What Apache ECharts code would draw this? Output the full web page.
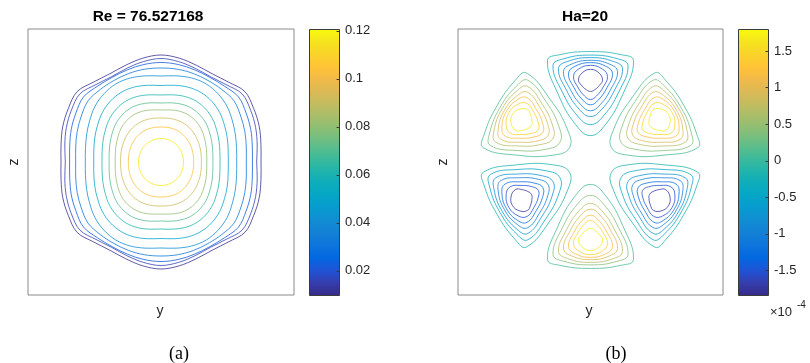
<!DOCTYPE html>
<html><head><meta charset="utf-8">
<script src="https://cdn.jsdelivr.net/npm/echarts@6/dist/echarts.min.js"></script>
<style>html,body{margin:0;padding:0;background:#fff}#c{width:810px;height:363px}</style>
</head><body><div id="c"></div>
<script>
// ---------- Panel (a): Re = 76.527168, streamwise velocity contours ----------
const levelsA = [0.011, 0.016, 0.022, 0.031, 0.041, 0.051, 0.061, 0.071, 0.081, 0.092, 0.104, 0.117];
// contour radius read at polar angles 0°,10°,...,90° from the y axis (mirror-symmetric in y and z)
const rA0  = [1.000, 0.957, 0.914, 0.853, 0.757, 0.673, 0.590, 0.519, 0.458, 0.404, 0.327, 0.225];
const rA10 = [1.015, 0.977, 0.927, 0.866, 0.767, 0.682, 0.598, 0.526, 0.464, 0.408, 0.329, 0.226];
const rA20 = [1.045, 1.007, 0.955, 0.892, 0.792, 0.705, 0.617, 0.543, 0.479, 0.416, 0.334, 0.227];
const rA30 = [1.070, 1.035, 0.982, 0.920, 0.824, 0.733, 0.642, 0.565, 0.498, 0.425, 0.340, 0.229];
const rA40 = [1.095, 1.059, 1.012, 0.952, 0.863, 0.767, 0.672, 0.592, 0.522, 0.437, 0.346, 0.231];
const rA50 = [1.045, 1.011, 0.989, 0.946, 0.889, 0.791, 0.693, 0.610, 0.538, 0.445, 0.351, 0.232];
const rA60 = [1.020, 0.986, 0.977, 0.941, 0.902, 0.802, 0.703, 0.619, 0.545, 0.449, 0.354, 0.233];
const rA70 = [1.030, 0.997, 0.981, 0.942, 0.894, 0.796, 0.697, 0.614, 0.541, 0.448, 0.354, 0.234];
const rA80 = [1.054, 1.019, 0.990, 0.942, 0.875, 0.779, 0.682, 0.601, 0.529, 0.444, 0.352, 0.235];
const rA90 = [1.070, 1.035, 0.995, 0.940, 0.860, 0.765, 0.670, 0.590, 0.520, 0.440, 0.350, 0.235];
const boxA = [-1.33, 1.33];
const colorRangeA = [0.0098, 0.1207];
const cbTicksA = [0.02, 0.04, 0.06, 0.08, 0.1, 0.12];

// ---------- Panel (b): Ha=20, six-lobe secondary flow (×1e-4) ----------
const lobeAngles = [90, 30, -30, -90, -150, 150];   // direction of each lobe (deg)
const lobeSign   = [-1, 1, -1, 1, -1, 1];
const levelsNeg  = [-0.15, -0.45, -0.75, -1.0, -1.25, -1.5, -1.72];
const levelsPos  = [0.1, 0.4, 0.7, 0.95, 1.2, 1.45, 1.7];
// lobe contour geometry: distances from the pipe centre along the lobe axis, and half width
const lobeTip    = [0.243, 0.353, 0.433, 0.490, 0.550, 0.603, 0.683];
const lobeWidest = [0.990, 0.940, 0.910, 0.880, 0.860, 0.830, 0.795];
const lobeTop    = [1.080, 1.045, 1.020, 0.993, 0.970, 0.943, 0.903];
const lobeHalfW  = [0.430, 0.375, 0.320, 0.270, 0.220, 0.170, 0.120];
const centreB    = [0, 0.02];
const boxB = [-1.325, 1.325];
const colorRangeB = [-1.84, 1.80];
const cbTicksB = [-1.5, -1, -0.5, 0, 0.5, 1, 1.5];

// parula colormap (64 entries)
const PARULA = [[0.2081,0.1663,0.5292],[0.2116,0.1898,0.5777],[0.2123,0.2138,0.6270],[0.2081,0.2386,0.6771],[0.1959,0.2645,0.7279],[0.1707,0.2919,0.7792],[0.1253,0.3242,0.8303],[0.0591,0.3598,0.8683],[0.0117,0.3875,0.8820],[0.0060,0.4086,0.8828],[0.0165,0.4266,0.8786],[0.0329,0.4430,0.8720],[0.0498,0.4586,0.8641],[0.0629,0.4737,0.8554],[0.0723,0.4887,0.8467],[0.0779,0.5040,0.8384],[0.0793,0.5200,0.8312],[0.0749,0.5375,0.8263],[0.0641,0.5570,0.8240],[0.0488,0.5772,0.8228],[0.0343,0.5966,0.8199],[0.0265,0.6137,0.8135],[0.0239,0.6287,0.8038],[0.0231,0.6418,0.7913],[0.0228,0.6535,0.7768],[0.0267,0.6642,0.7607],[0.0384,0.6743,0.7436],[0.0590,0.6838,0.7254],[0.0843,0.6928,0.7062],[0.1133,0.7015,0.6859],[0.1453,0.7098,0.6646],[0.1801,0.7177,0.6424],[0.2178,0.7250,0.6193],[0.2586,0.7317,0.5954],[0.3022,0.7376,0.5712],[0.3482,0.7424,0.5473],[0.3953,0.7459,0.5244],[0.4420,0.7481,0.5033],[0.4871,0.7491,0.4840],[0.5300,0.7491,0.4661],[0.5709,0.7485,0.4494],[0.6099,0.7473,0.4337],[0.6473,0.7456,0.4188],[0.6834,0.7435,0.4044],[0.7184,0.7411,0.3905],[0.7525,0.7384,0.3768],[0.7858,0.7356,0.3633],[0.8185,0.7327,0.3498],[0.8507,0.7299,0.3360],[0.8824,0.7274,0.3217],[0.9139,0.7258,0.3063],[0.9450,0.7261,0.2886],[0.9739,0.7314,0.2666],[0.9938,0.7455,0.2403],[0.9990,0.7653,0.2164],[0.9955,0.7861,0.1967],[0.9880,0.8066,0.1794],[0.9789,0.8271,0.1633],[0.9697,0.8481,0.1475],[0.9626,0.8705,0.1309],[0.9589,0.8949,0.1132],[0.9598,0.9218,0.0948],[0.9661,0.9514,0.0755],[0.9763,0.9831,0.0538]];
function rgb(c){return 'rgb('+c.map(v=>Math.round(v*255)).join(',')+')';}
function parula(v, range){
  let t=(v-range[0])/(range[1]-range[0]); t=Math.max(0,Math.min(1,t));
  const f=t*63, i=Math.min(62,Math.floor(f)), u=f-i, a=PARULA[i], b=PARULA[i+1];
  return rgb([0,1,2].map(k=>a[k]+(b[k]-a[k])*u));
}
const gradStops=[]; for(let i=0;i<64;i+=3){gradStops.push({offset:i/63,color:rgb(PARULA[i])});} gradStops.push({offset:1,color:rgb(PARULA[63])});

const chart = echarts.init(document.getElementById('c'), null, {renderer:'canvas'});
const TXT = '#262626', FONT = '"Liberation Sans", Arial, sans-serif';
const LINE_OPACITY = 0.78;

function renderA(params, api){
  const i = params.dataIndex;
  const rs = [rA0[i], rA10[i], rA20[i], rA30[i], rA40[i], rA50[i], rA60[i], rA70[i], rA80[i], rA90[i]];
  const pts = [];
  for(let k=0;k<36;k++){
    const th=k*10; let q=th%180; if(q>90) q=180-q;
    const r=rs[q/10], a=th*Math.PI/180;
    pts.push(api.coord([r*Math.cos(a), r*Math.sin(a)]));
  }
  return {type:'polygon', shape:{points:pts, smooth:0.35}, style:{fill:'none', stroke:parula(levelsA[i], colorRangeA), lineWidth:1, opacity:LINE_OPACITY}};
}
const lobeItems=[]; lobeAngles.forEach((ang,l)=>{ for(let c=0;c<lobeTip.length;c++) lobeItems.push([l,c]); });
function renderB(params, api){
  const l=lobeItems[params.dataIndex][0], c=lobeItems[params.dataIndex][1];
  const phi=lobeAngles[l]*Math.PI/180, ex=Math.cos(phi), ey=Math.sin(phi), nx=-ey, ny=ex;
  const tip=lobeTip[c], wide=lobeWidest[c], top=lobeTop[c], W=lobeHalfW[c];
  const L=wide-tip, H=top-wide;
  const half=[[tip,0],[tip+0.15*L,0.35*W],[tip+0.55*L,0.75*W],[wide,W],[wide+0.65*H,0.72*W],[top,0]];
  const loop=half.concat(half.slice(1,5).reverse().map(p=>[p[0],-p[1]]));
  const pts=loop.map(p=>api.coord([centreB[0]+p[0]*ex+p[1]*nx, centreB[1]+p[0]*ey+p[1]*ny]));
  const lev = lobeSign[l]<0 ? levelsNeg[c] : levelsPos[c];
  return {type:'polygon', shape:{points:pts, smooth:0.45}, style:{fill:'none', stroke:parula(lev, colorRangeB), lineWidth:1, opacity:LINE_OPACITY}};
}
function cbar(range, ticks){
  return function(params, api){
    const tl=api.coord([0, range[1]]), br=api.coord([1, range[0]]);
    const x0=Math.round(tl[0])+0.5, y0=Math.round(tl[1])+0.5, x1=Math.round(br[0])+0.5, y1=Math.round(br[1])+0.5;
    const children=[{type:'rect', shape:{x:x0, y:y0, width:x1-x0, height:y1-y0},
      style:{fill:new echarts.graphic.LinearGradient(0,1,0,0,gradStops), stroke:'#3a3a3a', lineWidth:1}}];
    ticks.forEach(t=>{
      const yy=Math.round(api.coord([1,t])[1])+0.5;
      children.push({type:'line', shape:{x1:x1-3, y1:yy, x2:x1, y2:yy}, style:{stroke:'#3a3a3a', lineWidth:1}});
    });
    return {type:'group', children};
  };
}
function cbAxis(idx, range, ticks){
  return {gridIndex:idx, type:'value', min:range[0], max:range[1], position:'right', splitLine:{show:false},
    axisLine:{show:false}, axisTick:{show:false},
    axisLabel:{show:true, customValues:ticks, margin:6, color:TXT, fontSize:13, fontFamily:FONT, formatter:v=>String(+(+v).toFixed(4))}};
}
const hiddenAxis = (idx,mn,mx)=>({gridIndex:idx, type:'value', min:mn, max:mx, show:false});
const gridBase = {containLabel:false, outerBoundsMode:'none'};

const option = {
  animation:false,
  backgroundColor:'#fff',
  grid:[
    Object.assign({left:28, top:29, width:266, height:266, show:true, borderColor:'#8a8a8a', borderWidth:1, backgroundColor:'#fff'}, gridBase),
    Object.assign({left:309, top:29, width:30, height:266, show:false}, gridBase),
    Object.assign({left:458, top:29, width:265, height:266, show:true, borderColor:'#8a8a8a', borderWidth:1, backgroundColor:'#fff'}, gridBase),
    Object.assign({left:738, top:29, width:30, height:266, show:false}, gridBase)
  ],
  xAxis:[hiddenAxis(0,boxA[0],boxA[1]), hiddenAxis(1,0,1), hiddenAxis(2,boxB[0],boxB[1]), hiddenAxis(3,0,1)],
  yAxis:[hiddenAxis(0,boxA[0],boxA[1]), cbAxis(1,colorRangeA,cbTicksA), hiddenAxis(2,boxB[0],boxB[1]), cbAxis(3,colorRangeB,cbTicksB)],
  series:[
    {type:'custom', xAxisIndex:0, yAxisIndex:0, clip:false, silent:true, data:levelsA.map(()=>[0,0]), renderItem:renderA},
    {type:'custom', xAxisIndex:1, yAxisIndex:1, clip:false, silent:true, data:[[0.5,colorRangeA[0]]], renderItem:cbar(colorRangeA,cbTicksA), z:1},
    {type:'custom', xAxisIndex:2, yAxisIndex:2, clip:false, silent:true, data:lobeItems.map(()=>[0,0]), renderItem:renderB},
    {type:'custom', xAxisIndex:3, yAxisIndex:3, clip:false, silent:true, data:[[0.5,colorRangeB[0]]], renderItem:cbar(colorRangeB,cbTicksB), z:1}
  ],
  graphic:[
    {type:'text', x:148, y:17, style:{text:'Re = 76.527168', font:'bold 15.5px '+FONT, fill:'#000', align:'center', verticalAlign:'middle'}},
    {type:'text', x:585, y:17, style:{text:'Ha=20', font:'bold 15.5px '+FONT, fill:'#000', align:'center', verticalAlign:'middle'}},
    {type:'text', x:160, y:311, style:{text:'y', font:'14px '+FONT, fill:TXT, align:'center', verticalAlign:'middle'}},
    {type:'text', x:589, y:311, style:{text:'y', font:'14px '+FONT, fill:TXT, align:'center', verticalAlign:'middle'}},
    {type:'text', x:14, y:162, rotation:Math.PI/2, style:{text:'z', font:'14px '+FONT, fill:TXT, align:'center', verticalAlign:'middle'}},
    {type:'text', x:443, y:162, rotation:Math.PI/2, style:{text:'z', font:'14px '+FONT, fill:TXT, align:'center', verticalAlign:'middle'}},
    {type:'text', x:770, y:312, style:{text:'×10', font:'13px '+FONT, fill:TXT, align:'left', verticalAlign:'middle'}},
    {type:'text', x:797, y:305, style:{text:'-4', font:'10px '+FONT, fill:TXT, align:'left', verticalAlign:'middle'}},
    {type:'text', x:179, y:354, style:{text:'(a)', font:'18px "Liberation Serif", serif', fill:'#000', align:'center', verticalAlign:'middle'}},
    {type:'text', x:616, y:354, style:{text:'(b)', font:'18px "Liberation Serif", serif', fill:'#000', align:'center', verticalAlign:'middle'}}
  ]
};
chart.setOption(option);
</script></body></html>
